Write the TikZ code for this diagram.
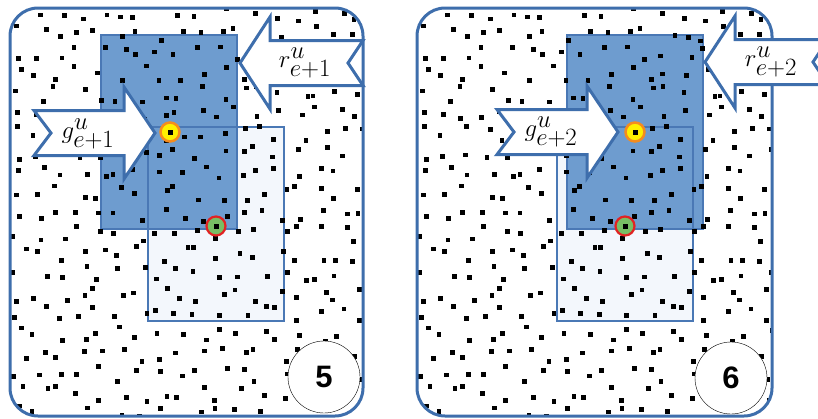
\documentclass[tikz,border=0pt]{standalone}
\usepackage{fontspec}
\setsansfont{Liberation Sans}
\usetikzlibrary{positioning}

\definecolor{panelblue}{RGB}{62,110,172}
\definecolor{hotblue}{RGB}{110,156,207}
\definecolor{coldblue}{RGB}{243,247,252}
\definecolor{rimblue}{RGB}{74,120,181}
\definecolor{seedyellow}{RGB}{255,240,0}
\definecolor{seedorange}{RGB}{245,140,30}
\definecolor{goalgreen}{RGB}{120,190,100}
\definecolor{goalred}{RGB}{225,35,35}

% same scattered points in both panels (jittered grid)
\newcommand{\dotfield}{%
  \pgfmathsetseed{4242}%
  \foreach \c in {0,...,17}{%
    \foreach \r in {0,...,20}{%
      \pgfmathsetmacro{\dx}{20*\c+10+16*(rnd-0.5)}%
      \pgfmathsetmacro{\dy}{20*\r+6+16*(rnd-0.5)}%
      \fill (\dx,\dy) ++(-2.4,-2.4) rectangle ++(4.8,4.8);
    }}}

\begin{document}
\begin{tikzpicture}[
		x=1pt, y=-1pt,
		panel/.style={draw=panelblue, line width=3pt, rounded corners=28pt},
		hotrect/.style={fill=hotblue},
		coldrect/.style={fill=coldblue},
		rectrim/.style={draw=rimblue, line width=1.6pt},
		arrowbody/.style={draw=panelblue, fill=white, line width=3pt},
		rightarrow/.pic={\path[arrowbody] (0,0) -- (-31,-46) -- (-31,-22.5) -- (-121,-22.5) -- (-104,0) -- (-121,22.5) -- (-31,22.5) -- (-31,46) -- cycle;},
		leftarrow/.pic={\path[arrowbody] (0,0) -- (30,-46) -- (30,-22.5) -- (123,-22.5) -- (108,0) -- (123,22.5) -- (30,22.5) -- (30,46) -- cycle;},
		label/.style={inner sep=0pt, font=\fontsize{34}{40}\selectfont},
		startpt/.style={circle, draw=seedorange, fill=seedyellow, line width=2.5pt, minimum size=19pt, inner sep=0pt},
		goalpt/.style={circle, draw=goalred, fill=goalgreen, line width=2.2pt, minimum size=19pt, inner sep=0pt},
		numcircle/.style={circle, draw=black, thin, fill=white, minimum size=72pt, inner sep=0pt, font=\sffamily\bfseries\fontsize{31}{36}\selectfont}
	]
	\useasboundingbox (0,0) rectangle (818,418);
	\clip (0,0) rectangle (818,418);

	% Panel 5
	\fill[white, rounded corners=28pt] (10,8) rectangle (363,416);
	\fill[coldrect] (148,127) rectangle (284,321);
	\fill[hotrect] (101,35) rectangle (237,229);
	\draw[rectrim] (148,127) rectangle (284,321);
	\draw[rectrim] (101,35) rectangle (237,229);
	\begin{scope}
		\clip[rounded corners=28pt] (10,8) rectangle (363,416);
		\begin{scope}[shift={(10,8)}]
			\dotfield
		\end{scope}
	\end{scope}
	\draw[panel] (10,8) rectangle (363,416);

	\pic at (155,133) {rightarrow};
	\pic at (240,63) {leftarrow};
	\node[label] (g5) at (88,134) {$g^u_{e+1}$};
	\node[label] (r5) at (305,63) {$r^u_{e+1}$};

	\node[startpt] (s5) at (170,132) {};
	\fill (s5.center) ++(-2.5,-2.5) rectangle ++(5,5);
	\node[goalpt] (t5) at (216,226) {};
	\fill (t5.center) ++(-2.5,-2.5) rectangle ++(5,5);

	\node[numcircle] (n5) at (324,377) {5};

	% Panel 6
	\fill[white, rounded corners=28pt] (417,8) rectangle (772,416);
	\fill[coldrect] (557,127) rectangle (693,321);
	\fill[hotrect] (567,35) rectangle (703,229);
	\draw[rectrim] (557,127) rectangle (693,321);
	\draw[rectrim] (567,35) rectangle (703,229);
	\begin{scope}
		\clip[rounded corners=28pt] (417,8) rectangle (772,416);
		\begin{scope}[shift={(417,8)}]
			\dotfield
		\end{scope}
	\end{scope}
	\draw[panel] (417,8) rectangle (772,416);

	\pic at (618,132) {rightarrow};
	\pic at (705,62) {leftarrow};
	\node[label] (g6) at (551,132) {$g^u_{e+2}$};
	\node[label] (r6) at (771,62) {$r^u_{e+2}$};

	\node[startpt] (s6) at (635,132) {};
	\fill (s6.center) ++(-2.5,-2.5) rectangle ++(5,5);
	\node[goalpt] (t6) at (625,226) {};
	\fill (t6.center) ++(-2.5,-2.5) rectangle ++(5,5);

	\node[numcircle] (n6) at (731,378) {6};

\end{tikzpicture}
\end{document}
